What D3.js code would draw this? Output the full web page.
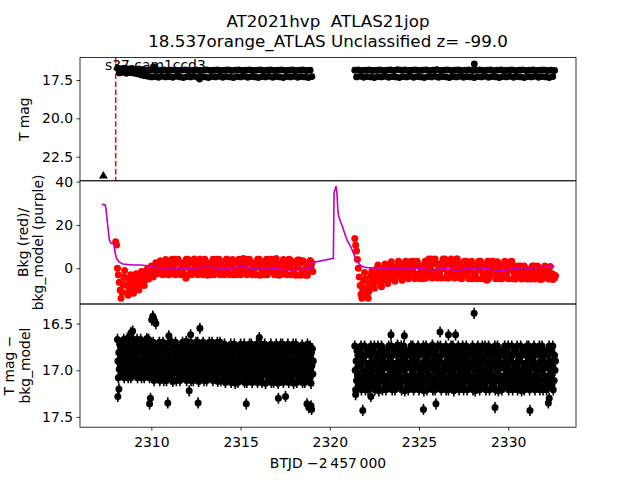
<!DOCTYPE html>
<html><head><meta charset="utf-8">
<script src="https://cdn.jsdelivr.net/npm/d3@7"></script>
<style>
body{margin:0;background:#fff}
svg{display:block}
text{font-family:"DejaVu Sans",sans-serif;fill:#000;white-space:pre}
</style>
</head><body>
<svg id="chart" width="640" height="480"></svg>
<script>
// ---------------- DATA ----------------
const titleLines = ["AT2021hvp  ATLAS21jop", "18.537orange_ATLAS Unclassified z= -99.0"];
const sectorLabel = "s37 cam1ccd3";
const xLabel = "BTJD \u22122\u2009457\u2009000";
const xTicks = [2310, 2315, 2320, 2325, 2330];
const topTicks = [17.5, 20.0, 22.5];
const midTicks = [40, 20, 0];
const botTicks = [16.5, 17.0, 17.5];

// discovery epoch (red dashed) and pre-discovery upper limit (triangle)
const discoveryT = [2308.0];
const limitT = [2307.31];
const limitMag = [23.76];

// ---- T mag (top panel), cadence 0.1 d ----
const tmagStep = 0.1;
const tmagSeg1Start = 2308.1;
const tmagSeg1 = [16.74,17.04,16.76,17.00,16.72,17.06,16.78,17.02,16.74,17.05,
  16.80,17.10,16.78,17.16,16.82,17.22,16.84,17.26,16.86,17.30,
  16.84,17.28,16.88,17.32,16.86,17.26,16.84,17.30,16.88,17.28,
  16.86,17.32,16.84,17.26,16.88,17.30,16.86,17.34,16.84,17.28,
  16.88,17.30,16.86,17.26,16.84,17.32,16.88,17.28,16.86,17.30,
  16.84,17.34,16.88,17.28,16.86,17.30,16.84,17.26,16.88,17.32,
  16.86,17.28,16.84,17.30,16.88,17.34,16.86,17.28,16.84,17.30,
  16.88,17.26,16.86,17.32,16.84,17.28,16.88,17.30,16.86,17.34,
  16.84,17.28,16.88,17.30,16.86,17.26,16.84,17.32,16.88,17.28,
  16.86,17.30,16.84,17.34,16.88,17.28,16.86,17.30,16.84,17.26,
  16.88,17.32,16.86,17.28,16.84,17.30,16.88,17.34,16.86,17.28];
const tmagSeg2Start = 2321.4;
const tmagSeg2 = [16.86,17.30,16.84,17.26,16.88,17.32,16.86,17.28,16.84,17.30,
  16.88,17.34,16.86,17.28,16.84,17.30,16.88,17.26,16.86,17.32,
  16.84,17.28,16.88,17.30,16.82,17.34,16.86,17.28,16.84,17.30,
  16.88,17.26,16.86,17.32,16.84,17.28,16.88,17.30,16.86,17.34,
  16.84,17.28,16.88,17.30,16.86,17.26,16.82,17.32,16.88,17.28,
  16.86,17.30,16.84,17.34,16.88,17.28,16.86,17.30,16.84,17.26,
  16.88,17.32,16.86,17.28,16.84,17.30,16.88,17.34,16.86,17.28,
  16.84,17.30,16.88,17.26,16.86,17.32,16.84,17.28,16.88,17.30,
  16.86,17.34,16.84,17.28,16.88,17.30,16.86,17.26,16.84,17.32,
  16.88,17.28,16.86,17.30,16.84,17.34,16.88,17.28,16.86,17.30,
  16.84,17.26,16.88,17.32,16.86,17.28,16.84,17.30,16.88,17.34,
  16.86,17.28,16.88];
const tmagOutT = [2310.1, 2310.2, 2312.7, 2328.1];
const tmagOutV = [16.66, 16.68, 17.44, 16.45];
const tmagErr = 0.06;

// ---- T mag - bkg_model (bottom panel), cadence 0.025 d ----
const diffStep = 0.025;
const diffSeg1Start = 2308.1;
const diffSeg1 = [
  16.67,16.90,17.08,16.81,16.99,16.72,16.94,16.76,17.03,16.85, 16.94,16.72,17.03,16.85,16.67,17.08,16.81,16.99,16.76,16.90, 16.81,17.03,16.66,16.94,17.08,16.76,16.90,16.72,16.99,16.85, 17.08,16.85,16.72,16.99,16.76,16.94,16.67,17.03,16.81,16.90,
  16.94,16.72,17.03,16.85,16.67,17.08,16.81,16.99,16.76,16.90, 16.81,17.03,16.67,16.94,17.08,16.76,16.90,16.72,16.99,16.85, 17.08,16.85,16.72,16.99,16.76,16.94,16.66,17.03,16.81,16.90, 16.67,16.90,17.08,16.81,16.99,16.72,16.94,16.76,17.03,16.85,
  16.70,16.93,17.11,16.84,17.02,16.75,16.97,16.79,17.06,16.88, 16.97,16.75,17.06,16.88,16.70,17.11,16.84,17.02,16.79,16.93, 16.84,17.06,16.70,16.97,17.11,16.79,16.93,16.75,17.02,16.88, 17.11,16.88,16.75,17.02,16.79,16.97,16.70,17.06,16.84,16.93,
  16.84,17.06,16.70,16.97,17.12,16.79,16.93,16.75,17.02,16.88, 16.70,16.93,17.11,16.84,17.02,16.75,16.97,16.79,17.06,16.88, 17.11,16.88,16.75,17.02,16.79,16.97,16.70,17.06,16.84,16.93, 16.97,16.75,17.06,16.88,16.69,17.11,16.84,17.02,16.79,16.93,
  16.97,16.75,17.06,16.88,16.70,17.11,16.84,17.02,16.79,16.93, 17.11,16.88,16.75,17.02,16.79,16.97,16.70,17.06,16.84,16.93, 16.70,16.93,17.12,16.84,17.02,16.75,16.97,16.79,17.06,16.88, 16.84,17.06,16.70,16.97,17.11,16.79,16.93,16.75,17.02,16.88,
  17.11,16.88,16.75,17.02,16.79,16.97,16.70,17.06,16.84,16.93, 16.84,17.06,16.70,16.97,17.11,16.79,16.93,16.75,17.02,16.88, 16.97,16.75,17.06,16.88,16.70,17.12,16.84,17.02,16.79,16.93, 16.70,16.93,17.11,16.84,17.02,16.75,16.97,16.79,17.06,16.88,
  16.72,16.95,17.13,16.86,17.04,16.77,16.99,16.81,17.08,16.90, 16.99,16.77,17.08,16.90,16.72,17.13,16.86,17.04,16.81,16.95, 16.86,17.08,16.72,16.99,17.14,16.81,16.95,16.77,17.04,16.90, 17.13,16.90,16.77,17.04,16.81,16.99,16.72,17.08,16.86,16.95,
  16.99,16.77,17.08,16.90,16.72,17.13,16.86,17.04,16.81,16.95, 17.13,16.90,16.77,17.04,16.81,16.99,16.72,17.08,16.86,16.95, 16.72,16.95,17.13,16.86,17.04,16.77,16.99,16.81,17.08,16.90, 16.86,17.08,16.72,16.99,17.13,16.81,16.95,16.77,17.04,16.90,
  16.86,17.08,16.72,16.99,17.13,16.81,16.95,16.77,17.04,16.90, 16.72,16.95,17.14,16.86,17.04,16.77,16.99,16.81,17.08,16.90, 16.99,16.77,17.08,16.90,16.72,17.13,16.86,17.04,16.81,16.95, 17.13,16.90,16.77,17.04,16.81,16.99,16.72,17.08,16.86,16.95,
  17.14,16.90,16.77,17.04,16.81,16.99,16.72,17.08,16.86,16.95, 16.72,16.95,17.13,16.86,17.04,16.77,16.99,16.81,17.08,16.90, 16.86,17.08,16.72,16.99,17.13,16.81,16.95,16.77,17.04,16.90, 16.99,16.77,17.08,16.90,16.72,17.14,16.86,17.04,16.81,16.95,
  16.72,16.95,17.13,16.86,17.04,16.77,16.99,16.81,17.08,16.90, 16.99,16.77,17.08,16.90,16.73,17.13,16.86,17.04,16.81,16.95, 17.13,16.90,16.77,17.04,16.81,16.99,16.72,17.08,16.86,16.95, 16.86,17.08,16.74,16.99,17.14,16.81,16.95,16.77,17.04,16.90];
const diffSeg2Start = 2321.4;
const diffSeg2 = [
  16.74,17.00,17.21,16.90,17.11,16.79,17.06,16.84,17.16,16.95, 17.06,16.79,17.16,16.95,16.74,17.21,16.90,17.11,16.84,17.00, 16.90,17.16,16.74,17.06,17.21,16.84,17.00,16.79,17.11,16.95, 17.21,16.95,16.79,17.11,16.84,17.06,16.74,17.16,16.90,17.00,
  17.06,16.79,17.16,16.95,16.74,17.21,16.90,17.11,16.84,17.00, 16.90,17.16,16.74,17.06,17.22,16.84,17.00,16.79,17.11,16.95, 16.74,17.00,17.21,16.90,17.11,16.79,17.06,16.84,17.16,16.95, 17.21,16.95,16.79,17.11,16.84,17.06,16.74,17.16,16.90,17.00,
  16.90,17.16,16.74,17.06,17.21,16.84,17.00,16.79,17.11,16.95, 17.21,16.95,16.79,17.11,16.84,17.06,16.73,17.16,16.90,17.00, 17.06,16.79,17.16,16.95,16.74,17.21,16.90,17.11,16.84,17.00, 16.74,17.00,17.22,16.90,17.11,16.79,17.06,16.84,17.16,16.95,
  17.21,16.95,16.79,17.11,16.84,17.06,16.74,17.16,16.90,17.00, 16.74,17.00,17.21,16.90,17.11,16.79,17.06,16.84,17.16,16.95, 16.90,17.16,16.74,17.06,17.21,16.84,17.00,16.79,17.11,16.95, 17.06,16.79,17.16,16.95,16.74,17.22,16.90,17.11,16.84,17.00,
  16.74,17.00,17.21,16.90,17.11,16.79,17.06,16.84,17.16,16.95, 17.06,16.79,17.16,16.95,16.73,17.21,16.90,17.11,16.84,17.00, 17.21,16.95,16.79,17.11,16.84,17.06,16.74,17.16,16.90,17.00, 16.90,17.16,16.74,17.06,17.21,16.84,17.00,16.79,17.11,16.95,
  17.06,16.79,17.16,16.95,16.74,17.21,16.90,17.11,16.84,17.00, 17.21,16.95,16.79,17.11,16.84,17.06,16.74,17.16,16.90,17.00, 16.74,17.00,17.22,16.90,17.11,16.79,17.06,16.84,17.16,16.95, 16.90,17.16,16.74,17.06,17.21,16.84,17.00,16.79,17.11,16.95,
  16.90,17.16,16.74,17.06,17.21,16.84,17.00,16.79,17.11,16.95, 16.74,17.00,17.21,16.90,17.11,16.79,17.06,16.84,17.16,16.95, 17.06,16.79,17.16,16.95,16.74,17.21,16.90,17.11,16.84,17.00, 17.22,16.95,16.79,17.11,16.84,17.06,16.74,17.16,16.90,17.00,
  17.21,16.95,16.79,17.11,16.84,17.06,16.74,17.16,16.90,17.00, 16.90,17.16,16.74,17.06,17.21,16.84,17.00,16.79,17.11,16.95, 16.74,17.00,17.21,16.90,17.11,16.79,17.06,16.84,17.16,16.95, 17.06,16.79,17.16,16.95,16.74,17.21,16.90,17.11,16.84,17.00,
  16.74,17.00,17.22,16.90,17.11,16.79,17.06,16.84,17.16,16.95, 17.21,16.95,16.79,17.11,16.84,17.06,16.74,17.16,16.90,17.00, 17.06,16.79,17.16,16.95,16.74,17.21,16.90,17.11,16.84,17.00, 16.90,17.16,16.74,17.06,17.21,16.84,17.00,16.79,17.11,16.95,
  17.06,16.79,17.16,16.95,16.74,17.21,16.90,17.11,16.84,17.00, 16.90,17.16,16.74,17.06,17.22,16.84,17.00,16.79,17.11,16.95, 17.21,16.95,16.79,17.11,16.84,17.06,16.74,17.16,16.90,17.00, 16.74,17.00,17.21,16.90,17.11,16.79,17.06,16.84,17.16,16.95,
  16.90,17.16,16.74,17.06,17.21,16.84,17.00,16.79,17.11,16.95, 17.06,16.79,17.16,16.95,16.74,17.21,16.90,17.11,16.84,17.00, 16.74,17.00,17.21,16.90,17.11,16.79,17.06,16.84,17.16,16.95, 17.21,16.95,16.79,17.11,16.84,17.06,16.74,17.16,16.90,17.00,
  17.06,16.79,17.16,16.95,16.74,17.21,16.90,17.11,16.84,17.00,16.90];
const diffOutT = [2308.12,2308.18,2308.85,2308.95,2309.90,2309.95,2310.02,2310.08,2310.12,2310.18,2310.25,
  2310.92,2310.98,2312.12,2312.20,2312.62,2312.72,2315.32,2316.05,2317.12,2317.52,2318.72,2318.82,2318.95,2318.98,
  2321.45,2321.85,2322.30,2323.43,2324.18,2325.25,2325.95,2326.18,2326.65,2327.05,2328.09,2329.26,2331.22,2332.25,2332.30];
const diffOutV = [17.28,17.20,16.60,16.58,17.36,17.30,16.46,16.42,16.44,16.47,16.50,
  17.35,16.63,17.22,16.62,17.35,16.55,17.36,16.65,17.30,17.28,17.36,17.40,17.38,17.42,
  17.26,17.43,17.28,16.62,16.63,17.42,17.36,16.59,16.62,16.62,16.39,17.40,17.43,17.35,17.30];
const diffErr = 0.06;

// ---- Background (red points, middle panel), cadence 0.05 d ----
const bkgStep = 0.05;
const bkgSeg1Start = 2308.0;
const bkgSeg1 = [
  12.3,10.8,0.0,-3.0,-6.5,-10.0,-13.8,-11.0,-7.5,-4.0,-1.0,-4.5,-8.0,-11.5,-12.5,-9.0,-5.5,-3.0,-6.5,-10.0,
  -11.5,-8.5,-5.5,-2.5,-4.5,-7.5,-10.0,-7.0,-4.0,-1.5,-3.5,-6.0,-8.0,-5.5,-3.0,-0.5,-2.5,-5.0,-3.0,-0.5,
  1.0,-1.5,-4.0,-2.0,0.5,2.5,0.0,-2.5,-1.0,1.5,3.5,1.5,-1.0,-3.0,-0.5,2.0,4.0,2.0,-0.5,-3.0,
  -3.0,2.4,-1.2,4.2,0.6, 0.6,4.2,-3.0,2.4,-1.2, 4.2,-1.2,2.4,-3.0,0.6, -1.2,2.4,-3.0,0.6,4.2,
  0.6,4.2,-3.0,2.4,-1.2, -3.0,2.4,-1.2,4.3,0.6, -1.2,2.4,-3.0,0.6,4.2, 4.2,-1.2,2.4,-3.0,0.6,
  4.2,-1.2,2.4,-3.2,0.6, -1.2,2.4,-3.0,0.6,4.2, -3.0,2.4,-1.2,4.2,0.6, 0.6,4.2,-3.0,2.4,-1.2,
  -1.2,2.4,-3.0,0.6,4.2, 4.2,-1.2,2.4,-3.0,0.6, 0.6,4.0,-3.0,2.4,-1.2, -3.0,2.4,-1.2,4.2,0.6,
  -3.0,2.4,-1.2,4.5,0.6, 0.6,4.2,-3.0,2.4,-1.2, 4.2,-1.2,2.4,-3.0,0.6, -1.2,2.4,-3.0,0.6,4.2,
  0.6,4.2,-3.2,2.4,-1.2, -1.2,2.4,-3.0,0.6,4.2, -3.0,2.4,-1.2,4.2,0.6, 4.2,-1.2,2.4,-3.0,0.6,
  4.5,-1.2,2.4,-3.2,0.6, -3.0,2.4,-1.2,4.0,0.6, -1.2,2.4,-3.0,0.6,4.2, 0.6,3.8,-3.0,2.4,-1.2,
  -1.2,2.4,-3.2,0.6,3.8, 0.6,3.8,-3.2,2.4,-1.2, 3.5,-1.2,2.4,-3.2,0.6, -3.2,2.2,-1.2,3.6,0.6,
  2.5,-1.5];
const bkgSeg2Start = 2321.4;
const bkgSeg2 = [
  13.8,10.7,8.0,4.0,0.0,-4.0,-8.0,-12.0,-13.8,-10.0,-6.0,-2.0,-5.0,-9.0,-12.5,-13.8,-10.5,-7.0,-3.5,-1.5,
  -5.0,-8.5,-9.2,-6.0,-3.0,0.0,1.5,-1.5,-4.5,-7.5,-8.5,-5.5,-2.5,0.5,2.0,-1.0,-4.0,-7.0,-5.0,-2.0,
  1.0,3.0,0.5,-2.5,-5.0,-6.0,-3.5,-1.0,1.5,3.2,1.0,-1.5,-4.0,-5.5,-3.0,-0.5,2.0,3.2,0.5,-2.0,
  -4.8,1.2,-2.8,3.2,-0.8, -0.8,3.2,-4.8,1.2,-2.8, 3.2,-2.8,1.2,-4.8,-0.8, -2.8,1.2,-4.8,-0.8,3.2,
  -4.5,2.1,-2.3,4.3,-0.1, -0.1,4.3,-4.5,2.1,-2.3, 4.3,-2.3,2.1,-4.5,-0.1, -2.3,2.1,-4.5,-0.1,4.3,
  -0.1,4.3,-4.5,2.1,-2.3, -4.5,2.1,-2.3,4.3,-0.1, -2.3,2.1,-4.5,-0.1,4.3, 4.3,-2.3,2.1,-4.5,-0.1,
  -4.8,1.2,-2.8,3.2,-0.8, 3.2,-2.8,1.2,-4.8,-0.8, -0.8,3.2,-4.8,1.2,-2.8, -2.8,1.2,-4.8,-0.8,3.2,
  -0.8,3.2,-4.8,1.2,-2.8, -2.8,1.2,-4.8,-0.8,3.2, -4.8,1.2,-2.8,3.2,-0.8, 3.2,-2.8,1.2,-4.8,-0.8,
  3.0,-2.8,1.2,-4.8,-0.8, -4.8,1.2,-2.8,3.2,-0.8, -2.8,1.2,-4.8,-0.8,3.0, -0.8,3.2,-4.8,1.2,-2.8,
  -5.0,-0.5,-3.5,1.0,-2.0, -2.0,1.0,-5.0,-0.5,-3.5, 1.0,-3.5,-0.5,-5.0,-2.0, -3.5,-0.5,-5.0,-2.0,1.0,
  -2.0,1.0,-5.0,-0.5,-3.5, 1.0,-3.5,-0.5,-5.2,-2.0, -5.0,-0.5,-3.5,1.0,-2.0, -3.5,-0.5,-5.0,-2.0,0.8,
  -4.0,-2.5,-5.2,-3.0,-4.5,-3.5];
const bkgOutT = [2311.94, 2328.80];
const bkgOutV = [-4.6, -5.5];

// ---- bkg_model (purple line) ----
const modelT = [2307.22,2307.40,2307.45,2307.55,2307.65,2307.75,2307.85,2307.92,2307.97,2308.05,
  2308.2,2308.4,2308.7,2309.0,2309.4,2309.8,2310.1,2310.4,2310.6,2310.9,
  2311.3,2311.7,2312.1,2312.5,2312.9,2313.3,2313.6,2314.0,2314.4,2314.8,
  2315.1,2315.4,2315.8,2316.2,2316.6,2317.0,2317.4,2317.8,2318.2,2318.6,
  2318.9,2319.0,2320.2,2320.24,2320.30,2320.35,2320.40,2320.45,2320.50,2320.6,
  2320.7,2320.8,2320.9,2321.0,2321.1,2321.2,2321.3,2321.4,2321.5,2321.6,
  2321.7,2321.9,2322.1,2322.5,2322.9,2323.3,2323.7,2324.1,2324.5,2324.9,
  2325.3,2325.7,2326.0,2326.4,2326.8,2327.1,2327.4,2327.8,2328.2,2328.6,
  2329.0,2329.4,2329.8,2330.2,2330.6,2331.0,2331.4,2331.8,2332.2,2332.6];
const modelV = [29.5,29.3,28.0,20.0,13.0,11.5,11.5,10.5,7.0,4.5,
  2.8,2.0,1.7,1.5,1.5,1.2,0.8,0.2,-0.5,-0.3,
  0.2,-0.2,0.3,0.0,0.4,0.6,0.2,-0.2,0.0,0.4,
  0.8,0.2,-0.2,0.4,-0.4,0.0,-0.6,-0.8,-0.6,-0.4,
  -0.2,2.6,4.6,35.0,36.5,38.0,35.0,27.0,24.0,21.5,
  19.5,17.0,14.5,12.5,11.0,9.5,7.5,5.5,3.5,2.5,
  1.5,0.6,0.3,0.2,0.0,0.2,-0.2,0.0,-0.3,0.1,
  -0.2,-0.8,-0.4,0.2,-0.3,-1.2,-0.5,0.0,-0.2,0.2,
  -0.3,-1.0,-1.0,-0.2,0.0,0.3,0.1,0.5,0.6,0.8];

// ---------------- HELPERS ----------------
function series(start, step, vals, err) {
  return vals.map((v, i) => ({ t: start + i * step, v: v, e: err }));
}
function pairs(ts, vs, err) {
  return ts.map((t, i) => ({ t: t, v: vs[i], e: err }));
}
const topData = series(tmagSeg1Start, tmagStep, tmagSeg1, tmagErr)
  .concat(series(tmagSeg2Start, tmagStep, tmagSeg2, tmagErr))
  .concat(pairs(tmagOutT, tmagOutV, tmagErr));
const botData = series(diffSeg1Start, diffStep, diffSeg1, diffErr)
  .concat(series(diffSeg2Start, diffStep, diffSeg2, diffErr))
  .concat(pairs(diffOutT, diffOutV, diffErr));
const midData = series(bkgSeg1Start, bkgStep, bkgSeg1, 0)
  .concat(series(bkgSeg2Start, bkgStep, bkgSeg2, 0))
  .concat(pairs(bkgOutT, bkgOutV, 0));
const modelData = modelT.map((t, i) => ({ t: t, v: modelV[i] }));

// ---------------- LAYOUT ----------------
const L = 80, R = 576;
const P = [57.6, 180.8, 304, 427.2];
const svg = d3.select("#chart");

const x = d3.scaleLinear([2306.0, 2333.8], [L, R]);
const yTop = d3.scaleLinear([16.04, 24.07], [P[0], P[1]]);
const yMid = d3.scaleLinear([40.4, -16.5], [P[1], P[2]]);
const yBot = d3.scaleLinear([16.29, 17.61], [P[2], P[3]]);

const defs = svg.append("defs");
[0, 1, 2].forEach(k => {
  defs.append("clipPath").attr("id", "clip" + k)
    .append("rect").attr("x", L).attr("y", P[k]).attr("width", R - L).attr("height", P[k + 1] - P[k]);
});

// Title
svg.append("text").attr("x", (L + R) / 2).attr("y", 27).attr("text-anchor", "middle")
  .attr("xml:space", "preserve").style("font-size", "16.7px").text(titleLines[0]);
svg.append("text").attr("x", (L + R) / 2).attr("y", 47).attr("text-anchor", "middle")
  .style("font-size", "16.7px").text(titleLines[1]);

// ---------- TOP PANEL ----------
svg.append("text").attr("x", 105).attr("y", 70).style("font-size", "13.9px").text(sectorLabel);
const gTop = svg.append("g").attr("clip-path", "url(#clip0)");
gTop.selectAll("line.disc").data(discoveryT).join("line")
  .attr("x1", d => x(d)).attr("x2", d => x(d)).attr("y1", P[0]).attr("y2", P[1])
  .attr("stroke", "#ff0000").attr("stroke-width", 1.5).attr("stroke-dasharray", "5.55,2.4");
gTop.selectAll("path.lim").data(limitT).join("path")
  .attr("transform", (d, i) => `translate(${x(d)},${yTop(limitMag[i])})`)
  .attr("d", d3.symbol(d3.symbolTriangle, 34)).attr("fill", "#000");
gTop.selectAll("line.eb").data(topData).join("line")
  .attr("x1", d => x(d.t)).attr("x2", d => x(d.t))
  .attr("y1", d => yTop(d.v - d.e)).attr("y2", d => yTop(d.v + d.e))
  .attr("stroke", "#000").attr("stroke-width", 1.3);
gTop.selectAll("circle").data(topData).join("circle")
  .attr("cx", d => x(d.t)).attr("cy", d => yTop(d.v)).attr("r", 3.4).attr("fill", "#000");

// ---------- MIDDLE PANEL ----------
const gMid = svg.append("g").attr("clip-path", "url(#clip1)");
gMid.selectAll("circle").data(midData).join("circle")
  .attr("cx", d => x(d.t)).attr("cy", d => yMid(d.v)).attr("r", 3.5).attr("fill", "#ff0000");
gMid.append("path").datum(modelData)
  .attr("d", d3.line().x(d => x(d.t)).y(d => yMid(d.v)))
  .attr("fill", "none").attr("stroke", "#bf00bf").attr("stroke-width", 1.6);

// ---------- BOTTOM PANEL ----------
const gBot = svg.append("g").attr("clip-path", "url(#clip2)");
gBot.selectAll("line").data(botData).join("line")
  .attr("x1", d => x(d.t)).attr("x2", d => x(d.t))
  .attr("y1", d => yBot(d.v - d.e)).attr("y2", d => yBot(d.v + d.e))
  .attr("stroke", "#000").attr("stroke-width", 1.6);
gBot.selectAll("circle").data(botData).join("circle")
  .attr("cx", d => x(d.t)).attr("cy", d => yBot(d.v)).attr("r", 3.5).attr("fill", "#000");

// ---------- AXES ----------
function styleAxis(g) {
  g.select(".domain").remove();
  g.selectAll(".tick line").attr("stroke", "#000").attr("stroke-width", 0.8);
  g.selectAll(".tick text").style("font-size", "13.9px").attr("fill", "#000")
    .style("font-family", '"DejaVu Sans",sans-serif');
}
svg.append("g").attr("transform", `translate(${L},0)`)
  .call(d3.axisLeft(yTop).tickValues(topTicks).tickFormat(d3.format(".1f")).tickSize(3.5).tickPadding(3.5))
  .call(styleAxis);
svg.append("g").attr("transform", `translate(${L},0)`)
  .call(d3.axisLeft(yMid).tickValues(midTicks).tickFormat(d3.format("d")).tickSize(3.5).tickPadding(3.5))
  .call(styleAxis);
svg.append("g").attr("transform", `translate(${L},0)`)
  .call(d3.axisLeft(yBot).tickValues(botTicks).tickFormat(d3.format(".1f")).tickSize(3.5).tickPadding(3.5))
  .call(styleAxis);
const xg = svg.append("g").attr("transform", `translate(0,${P[3]})`)
  .call(d3.axisBottom(x).tickValues(xTicks).tickFormat(d3.format("d")).tickSize(3.5).tickPadding(3.5))
  .call(styleAxis);
xg.selectAll(".tick text").attr("dy", "0.9em");

// frames
[0, 1, 2].forEach(k => {
  svg.append("rect").attr("x", L).attr("y", P[k]).attr("width", R - L).attr("height", P[k + 1] - P[k])
    .attr("fill", "none").attr("stroke", "#000").attr("stroke-width", 0.8);
});

// axis labels
function yLabel(xp, yc, txt) {
  svg.append("text").attr("transform", `translate(${xp},${yc}) rotate(-90)`)
    .attr("text-anchor", "middle").style("font-size", "13.9px").text(txt);
}
yLabel(29, (P[0] + P[1]) / 2, "T mag");
yLabel(27.5, (P[1] + P[2]) / 2, "Bkg (red)/");
yLabel(43, (P[1] + P[2]) / 2, "bkg_model (purple)");
yLabel(13.5, (P[2] + P[3]) / 2, "T mag \u2212");
yLabel(30, (P[2] + P[3]) / 2, "bkg_model");
svg.append("text").attr("x", (L + R) / 2).attr("y", 468).attr("text-anchor", "middle")
  .style("font-size", "13.9px").text(xLabel);
</script>
</body></html>
